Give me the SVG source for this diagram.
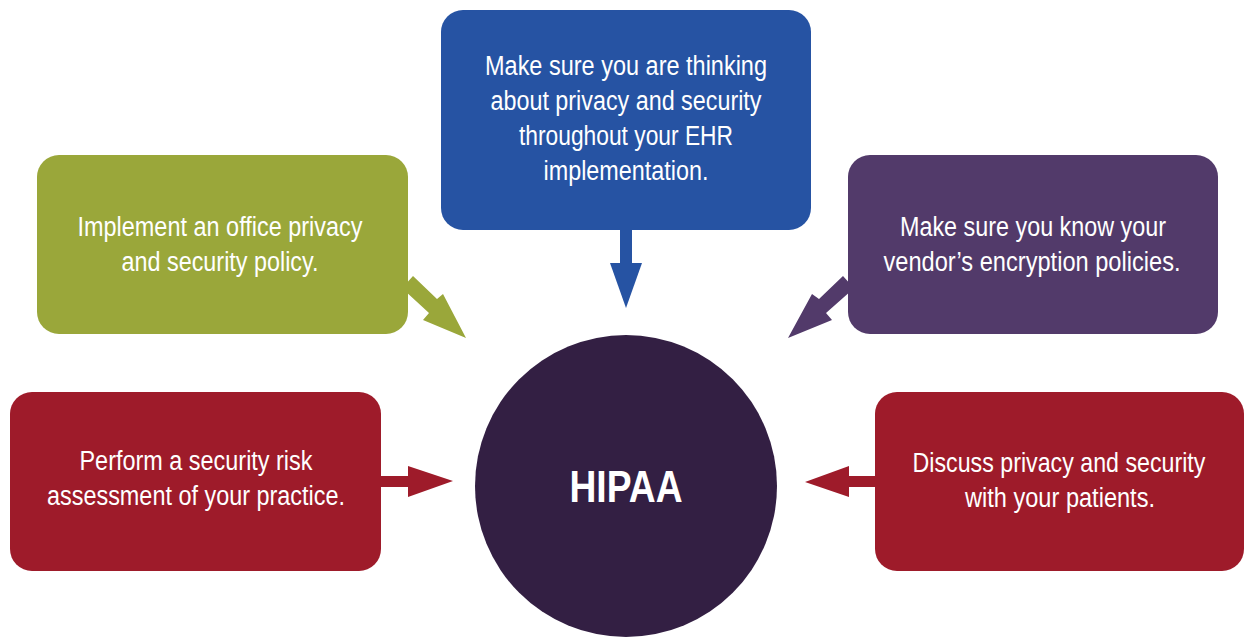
<svg xmlns="http://www.w3.org/2000/svg" width="1244" height="637" viewBox="0 0 1244 637">
<style>
.t{font-family:"Liberation Sans",Arial,sans-serif;font-size:27px;fill:#ffffff;text-anchor:middle}
.h{font-family:"Liberation Sans",Arial,sans-serif;font-size:44px;font-weight:bold;fill:#ffffff;text-anchor:middle}
</style>
<rect width="1244" height="637" fill="#ffffff"/>
<g id="connectors">
<g id="arrow-blue" fill="#2653A3">
<rect x="620" y="228" width="12" height="36"/>
<polygon points="610,263 642,263 626,308"/>
</g>
<g id="arrow-green" fill="#9AA73A">
<polygon points="404,286 413,276 437,299 443,294 466,338 423,320 429,313 404,290"/>
</g>
<g id="arrow-purple" fill="#523A6A">
<polygon points="852,286 843,276 819,299 812,294 788,338 832,320 826,313 852,290"/>
</g>
<g id="arrow-red-left" fill="#9E1B2A">
<rect x="379" y="476" width="31" height="11"/>
<polygon points="408,466 408,497 453,481"/>
</g>
<g id="arrow-red-right" fill="#9E1B2A">
<rect x="847" y="476" width="30" height="11"/>
<polygon points="849,466 849,497 805,482"/>
</g>
</g>
<g id="node-ehr">
<rect x="441" y="10" width="370" height="220" rx="22" fill="#2653A3"/>
<text class="t" x="626" y="75" textLength="282" lengthAdjust="spacingAndGlyphs">Make sure you are thinking</text>
<text class="t" x="626" y="110" textLength="271" lengthAdjust="spacingAndGlyphs">about privacy and security</text>
<text class="t" x="626" y="145" textLength="214" lengthAdjust="spacingAndGlyphs">throughout your EHR</text>
<text class="t" x="626" y="180" textLength="165" lengthAdjust="spacingAndGlyphs">implementation.</text>
</g>
<g id="node-policy">
<rect x="37" y="155" width="371" height="179" rx="22" fill="#9AA73A"/>
<text class="t" x="220" y="236" textLength="285" lengthAdjust="spacingAndGlyphs">Implement an office privacy</text>
<text class="t" x="220" y="271" textLength="197" lengthAdjust="spacingAndGlyphs">and security policy.</text>
</g>
<g id="node-vendor">
<rect x="848" y="155" width="370" height="179" rx="22" fill="#523A6A"/>
<text class="t" x="1033" y="236" textLength="266" lengthAdjust="spacingAndGlyphs">Make sure you know your</text>
<text class="t" x="1032" y="271" textLength="297" lengthAdjust="spacingAndGlyphs">vendor’s encryption policies.</text>
</g>
<g id="node-risk">
<rect x="10" y="392" width="371" height="179" rx="22" fill="#9E1B2A"/>
<text class="t" x="196" y="470" textLength="233" lengthAdjust="spacingAndGlyphs">Perform a security risk</text>
<text class="t" x="196" y="505" textLength="298" lengthAdjust="spacingAndGlyphs">assessment of your practice.</text>
</g>
<g id="node-patients">
<rect x="875" y="392" width="369" height="179" rx="22" fill="#9E1B2A"/>
<text class="t" transform="translate(1059,472) scale(0.86,1)" x="0" y="0">Discuss privacy and security</text>
<text class="t" x="1060" y="507" textLength="190" lengthAdjust="spacingAndGlyphs">with your patients.</text>
</g>
<g id="node-hipaa">
<circle cx="626" cy="486" r="151" fill="#331F43"/>
<text class="h" x="626" y="502" textLength="113" lengthAdjust="spacingAndGlyphs">HIPAA</text>
</g>
</svg>
